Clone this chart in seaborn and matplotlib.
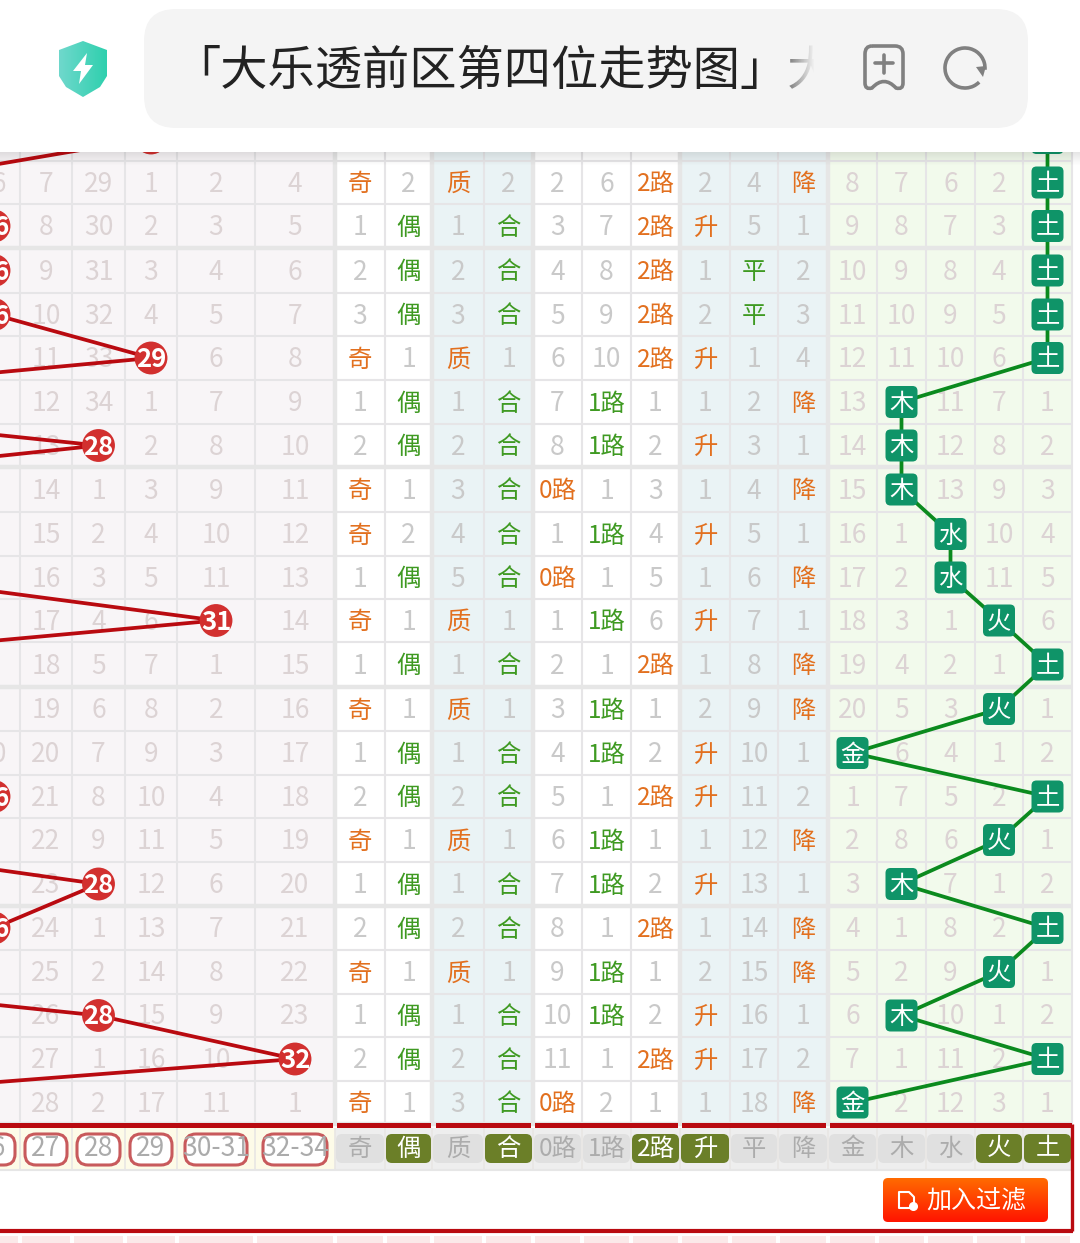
import numpy as np
import pandas as pd
import seaborn as sns
import matplotlib
matplotlib.use('Agg')
import matplotlib.pyplot as plt
from matplotlib.colors import ListedColormap, LinearSegmentedColormap
from matplotlib.patches import FancyBboxPatch, Polygon, Arc, Rectangle, PathPatch
from matplotlib.path import Path

sns.set_theme(style='white')
plt.rcParams['font.family'] = ['Noto Sans CJK SC', 'DejaVu Sans']

# --- data ---
title = '「大乐透前区第四位走势图」大'

# missing counts of the number columns 26, 27, 28, 29, 30-31, 32-34 ('' = drawn as a ball)
number_rows = [
    ['16', '7', '29', '1', '2', '4'],
    ['', '8', '30', '2', '3', '5'],
    ['', '9', '31', '3', '4', '6'],
    ['', '10', '32', '4', '5', '7'],
    ['1', '11', '33', '', '6', '8'],
    ['2', '12', '34', '1', '7', '9'],
    ['3', '13', '', '2', '8', '10'],
    ['4', '14', '1', '3', '9', '11'],
    ['5', '15', '2', '4', '10', '12'],
    ['6', '16', '3', '5', '11', '13'],
    ['7', '17', '4', '6', '', '14'],
    ['8', '18', '5', '7', '1', '15'],
    ['9', '19', '6', '8', '2', '16'],
    ['10', '20', '7', '9', '3', '17'],
    ['', '21', '8', '10', '4', '18'],
    ['1', '22', '9', '11', '5', '19'],
    ['2', '23', '', '12', '6', '20'],
    ['', '24', '1', '13', '7', '21'],
    ['1', '25', '2', '14', '8', '22'],
    ['2', '26', '', '15', '9', '23'],
    ['3', '27', '1', '16', '10', ''],
    ['4', '28', '2', '17', '11', '1'],
]
parity_rows = [
    ['奇', '2', '质', '2'], ['1', '偶', '1', '合'], ['2', '偶', '2', '合'], ['3', '偶', '3', '合'],
    ['奇', '1', '质', '1'], ['1', '偶', '1', '合'], ['2', '偶', '2', '合'], ['奇', '1', '3', '合'],
    ['奇', '2', '4', '合'], ['1', '偶', '5', '合'], ['奇', '1', '质', '1'], ['1', '偶', '1', '合'],
    ['奇', '1', '质', '1'], ['1', '偶', '1', '合'], ['2', '偶', '2', '合'], ['奇', '1', '质', '1'],
    ['1', '偶', '1', '合'], ['2', '偶', '2', '合'], ['奇', '1', '质', '1'], ['1', '偶', '1', '合'],
    ['2', '偶', '2', '合'], ['奇', '1', '3', '合'],
]
road_rows = [
    ['2', '6', '2路'], ['3', '7', '2路'], ['4', '8', '2路'], ['5', '9', '2路'], ['6', '10', '2路'],
    ['7', '1路', '1'], ['8', '1路', '2'], ['0路', '1', '3'], ['1', '1路', '4'], ['0路', '1', '5'],
    ['1', '1路', '6'], ['2', '1', '2路'], ['3', '1路', '1'], ['4', '1路', '2'], ['5', '1', '2路'],
    ['6', '1路', '1'], ['7', '1路', '2'], ['8', '1', '2路'], ['9', '1路', '1'], ['10', '1路', '2'],
    ['11', '1', '2路'], ['0路', '2', '1'],
]
trend_rows = [
    ['2', '4', '降'], ['升', '5', '1'], ['1', '平', '2'], ['2', '平', '3'], ['升', '1', '4'],
    ['1', '2', '降'], ['升', '3', '1'], ['1', '4', '降'], ['升', '5', '1'], ['1', '6', '降'],
    ['升', '7', '1'], ['1', '8', '降'], ['2', '9', '降'], ['升', '10', '1'], ['升', '11', '2'],
    ['1', '12', '降'], ['升', '13', '1'], ['1', '14', '降'], ['2', '15', '降'], ['升', '16', '1'],
    ['升', '17', '2'], ['1', '18', '降'],
]
element_rows = [
    ['8', '7', '6', '2'], ['9', '8', '7', '3'], ['10', '9', '8', '4'], ['11', '10', '9', '5'],
    ['12', '11', '10', '6'], ['13', '11', '7', '1'], ['14', '12', '8', '2'], ['15', '13', '9', '3'],
    ['16', '1', '10', '4'], ['17', '2', '11', '5'], ['18', '3', '1', '6'], ['19', '4', '2', '1'],
    ['20', '5', '3', '1'], ['6', '4', '1', '2'], ['1', '7', '5', '2'], ['2', '8', '6', '1'],
    ['3', '7', '1', '2'], ['4', '1', '8', '2'], ['5', '2', '9', '1'], ['6', '10', '1', '2'],
    ['7', '1', '11', '2'], ['2', '12', '3', '1'],
]
# drawn number of each row, first entry is the row hidden under the address bar
winners = [29, 24, 26, 26, 26, 29, 20, 28, 20, 18, 24, 31, 21, 15, 20, 26, 22, 28, 26, 20, 28, 32, 21]
elements = ['土', '土', '土', '土', '土', '土', '木', '木', '木', '水', '水', '火', '土', '火', '金',
            '土', '火', '木', '土', '火', '木', '土', '金']
element_names = ['金', '木', '水', '火', '土']

filter_numbers = ['26', '27', '28', '29', '30-31', '32-34']
filter_labels = ['奇', '偶', '质', '合', '0路', '1路', '2路', '升', '平', '降', '金', '木', '水', '火', '土']
filter_on = ['偶', '合', '2路', '升', '火', '土']
orange_marks = ['奇', '质', '0路', '2路', '升', '降']
green_marks = ['偶', '合', '1路', '平']

# --- layout in screen pixels ---
col_edges = np.array([-32, 20, 72, 125, 177, 255, 335, 385, 432, 484, 533, 582, 631, 680,
                      730, 778, 828, 877, 926, 975, 1023, 1072, 1080])
row_edges = np.array([116, 161, 204, 248, 293, 336, 380, 424, 467, 512, 556, 599, 642, 687,
                      731, 775, 818, 862, 906, 950, 994, 1037, 1081, 1124])
section_of_col = [0, 0, 0, 0, 0, 0, 1, 1, 2, 2, 1, 1, 1, 2, 2, 2, 3, 3, 3, 3, 3, 4]
section_colors = ['#f8f5f7', '#ffffff', '#eaf3f5', '#f2faec', '#ffffff']
thick_cols = [335, 432, 533, 680, 828]
thick_rows = [248, 467, 687, 906, 1124]
col_x = (col_edges[:-1] + col_edges[1:]) / 2
col_x[0] = -8
row_y = (row_edges[:-1] + row_edges[1:]) / 2
row_y[0] = 138


def number_x(n):
    # columns left of 26 are off the screen, 52 px each
    if n <= 26:
        return -6 - 52 * (26 - n)
    if n <= 29:
        return col_x[n - 26]
    return col_x[4] if n <= 31 else col_x[5]


DIM_LEFT = '#dcd3d4'
DIM_MID = '#c9c9c9'
RED = '#b90a10'
GREEN = '#0b8a1e'
BADGE = '#0f9468'
ICON = '#808080'
FS_NUM = 19
FS_CJK = 17.5
TEXT_DY = 1.5

fig = plt.figure(figsize=(10.8, 12.43), dpi=100)
ax = fig.add_axes([0, 0, 1, 1])
ax.set_xlim(0, 1080)
ax.set_ylim(1243, 0)
ax.axis('off')

# table backgrounds
cells = np.tile(section_of_col, (len(row_edges) - 1, 1))
ax.pcolormesh(col_edges, row_edges, cells, cmap=ListedColormap(section_colors), vmin=0, vmax=4, zorder=1)
ax.vlines(col_edges[1:-1], 116, 1124, color='#e6e5e7', lw=1.5, zorder=1.2)
ax.hlines(row_edges[1:-1], 0, 1072, color='#e6e5e7', lw=1.5, zorder=1.2)
ax.vlines(thick_cols, 116, 1124, color='#e6e6e6', lw=3.2, zorder=1.3)
ax.hlines(thick_rows, 0, 1072, color='#e6e6e6', lw=3.2, zorder=1.3)


def cell_text(x, y, s, dim):
    if s in orange_marks or s in green_marks:
        color = '#e2701f' if s in orange_marks else '#3f9a22'
        ax.text(x, y + TEXT_DY, s, ha='center', va='center', fontsize=FS_CJK, color=color, zorder=2)
    elif s:
        ax.text(x, y + TEXT_DY, s, ha='center', va='center', fontsize=FS_NUM, color=dim, zorder=2, fontweight='light')


for i in range(len(number_rows)):
    y = row_y[i + 1]
    for j, s in enumerate(number_rows[i]):
        cell_text(col_x[j], y, s, DIM_LEFT)
    for j, s in enumerate(parity_rows[i] + road_rows[i] + trend_rows[i]):
        cell_text(col_x[j + 6], y, s, DIM_MID)
    for j, s in enumerate(element_rows[i]):
        # the winning element takes one of the five cells, the others keep their counts
        slots = [k for k in range(5) if element_names[k] != elements[i + 1]]
        cell_text(col_x[16 + slots[j]], y, s, DIM_LEFT)

# drawn numbers
red_df = pd.DataFrame({'x': [number_x(n) for n in winners], 'y': row_y, 'n': winners})
sns.lineplot(data=red_df, x='x', y='y', sort=False, estimator=None, color=RED, lw=2.7, ax=ax, zorder=3, legend=False)
balls = red_df[red_df['x'] > -30]
sns.scatterplot(data=balls, x='x', y='y', s=560, color='#d2302f', edgecolor='none', ax=ax, zorder=4, legend=False)
for _, b in balls.iterrows():
    ax.text(b['x'], b['y'] + TEXT_DY, str(int(b['n'])), ha='center', va='center', color='white', fontsize=18.5,
            fontweight='bold', zorder=5)

# five elements
green_df = pd.DataFrame({'x': [col_x[16 + element_names.index(e)] for e in elements], 'y': row_y, 'e': elements})
sns.lineplot(data=green_df, x='x', y='y', sort=False, estimator=None, color=GREEN, lw=2.7, ax=ax, zorder=3, legend=False)
for _, b in green_df.iterrows():
    ax.add_patch(FancyBboxPatch((b['x'] - 13, b['y'] - 13), 26, 26, boxstyle='round,pad=3,rounding_size=5',
                                fc=BADGE, ec='none', zorder=4))
    ax.text(b['x'], b['y'] + TEXT_DY, b['e'], ha='center', va='center', color='white', fontsize=17.5,
            fontweight='medium', zorder=5)

# red bar and filter row
for a, b in [(0, 333), (337, 431), (436, 531), (535, 678), (682, 826), (830, 1072)]:
    ax.add_patch(Rectangle((a, 1123), b - a, 5, fc=RED, ec='none', zorder=6))
ax.add_patch(Rectangle((0, 1128), 335, 42, fc='#fdfbe8', ec='none', zorder=1))
ax.add_patch(Rectangle((335, 1128), 737, 42, fc='#eeeeee', ec='none', zorder=1))
ax.vlines(col_edges[1:-1], 1128, 1170, color='#e8e6e4', lw=1.2, zorder=1.2)
ax.hlines(1170, 0, 1072, color='#e6e6e6', lw=1.5, zorder=1.2)

for j, s in enumerate(filter_numbers):
    inset = 8 if j >= 4 else 5
    ax.add_patch(FancyBboxPatch((col_edges[j] + inset + 6, 1140), col_edges[j + 1] - col_edges[j] - 2 * inset - 12, 19,
                                boxstyle='round,pad=6,rounding_size=11', fc='white', ec='#c85a5c', lw=2.2, zorder=2))
    ax.text(col_x[j], 1149, s, ha='center', va='center', fontsize=FS_NUM, color='#ababab', zorder=3, fontweight='light')

for j, s in enumerate(filter_labels):
    on = s in filter_on
    a, b = col_edges[j + 6], col_edges[j + 7]
    ax.add_patch(FancyBboxPatch((a + 6, 1139), b - a - 12, 19, boxstyle='round,pad=5,rounding_size=6',
                                fc='#6b7f28' if on else '#e0e0e0', ec='none', zorder=2))
    ax.text(col_x[j + 6], 1148.5, s, ha='center', va='center', fontsize=FS_CJK,
            color='white' if on else '#acacac', zorder=3)

# frame around the filter, button, next rows
ax.plot([1071.5, 1071.5], [1124, 1231], color=RED, lw=2.4, zorder=6, solid_capstyle='butt')
ax.plot([0, 1073], [1230.5, 1230.5], color=RED, lw=3, zorder=6, solid_capstyle='butt')
for a, b in zip(col_edges[:-2], col_edges[1:-1]):
    ax.add_patch(Rectangle((a + 2, 1236), b - a - 4, 10, fc='#fbe9e9', ec='none', zorder=1))

button = FancyBboxPatch((886, 1181), 159, 38, boxstyle='round,pad=3,rounding_size=5', fc='none', ec='none', zorder=5)
ax.add_patch(button)
orange_red = LinearSegmentedColormap.from_list('btn', ['#ff6a00', '#ff1500'])
grad = ax.imshow(np.linspace(0, 1, 50).reshape(-1, 1), extent=(883, 1048, 1222, 1178), aspect='auto', cmap=orange_red, zorder=5)
grad.set_clip_path(button)
ax.text(976, 1200, '加入过滤', ha='center', va='center', color='white', fontsize=18, zorder=6)
ax.add_patch(Polygon([[899, 1192], [909, 1192], [914, 1197], [914, 1208], [899, 1208]], closed=True, fc='none',
                     ec='white', lw=1.5, joinstyle='round', zorder=6))
ax.plot([913], [1206], 'o', ms=5.5, color='white', zorder=6)

# address bar on top of the table
ax.add_patch(Rectangle((0, 0), 1080, 152, fc='white', ec='none', zorder=10))
shadow = LinearSegmentedColormap.from_list('shadow', [(0, 0, 0, 0.10), (0, 0, 0, 0)])
ax.imshow(np.linspace(0, 1, 20).reshape(-1, 1), extent=(0, 1080, 166, 152), aspect='auto', cmap=shadow, zorder=9)
ax.add_patch(FancyBboxPatch((144 + 32, 9 + 32), 884 - 64, 119 - 64, boxstyle='round,pad=32,rounding_size=32',
                            fc='#f4f4f4', ec='none', zorder=11))
ax.text(173, 72, title, ha='left', va='center', fontsize=34, color='#222222', zorder=12)
# last character fades out and is cut by the bar's icons
fade = LinearSegmentedColormap.from_list('fade', [(0.957, 0.957, 0.957, 0), (0.957, 0.957, 0.957, 1)])
ax.imshow(np.linspace(0, 1, 30).reshape(1, -1), extent=(768, 815, 124, 14), aspect='auto', cmap=fade, zorder=13)
ax.add_patch(Rectangle((815, 14), 35, 110, fc='#f4f4f4', ec='none', zorder=13))

# shield icon
teal = LinearSegmentedColormap.from_list('teal', ['#6fd8cc', '#2fd0ae'])
shield = Polygon([[83, 41], [107, 50], [107, 76], [100, 87], [83, 97], [66, 87], [59, 76], [59, 50]], closed=True,
                 fc='none', ec='none', zorder=12, joinstyle='round')
ax.add_patch(shield)
sh = ax.imshow(np.linspace(0, 1, 50).reshape(1, -1), extent=(59, 107, 97, 41), aspect='auto', cmap=teal, zorder=12)
sh.set_clip_path(shield)
ax.add_patch(Polygon([[87, 53], [73, 71], [81, 71], [79, 84], [93, 65], [85, 65]], closed=True, fc='white', ec='none', zorder=13))

# bookmark and reload icons
mark_verts = [(872, 46), (895, 46), (903, 46), (903, 54), (903, 83), (903, 90), (896, 88),
              (884, 75), (872, 88), (865, 90), (865, 83), (865, 54), (865, 46), (872, 46)]
mark_codes = [Path.MOVETO, Path.LINETO, Path.CURVE3, Path.CURVE3, Path.LINETO, Path.CURVE3, Path.CURVE3,
              Path.CURVE3, Path.CURVE3, Path.CURVE3, Path.CURVE3, Path.LINETO, Path.CURVE3, Path.CURVE3]
ax.add_patch(PathPatch(Path(mark_verts, mark_codes), fc='none', ec=ICON, lw=2.6, zorder=14))
ax.plot([875, 893], [63, 63], color=ICON, lw=2.6, zorder=14, solid_capstyle='round')
ax.plot([884, 884], [55, 73], color=ICON, lw=2.6, zorder=14, solid_capstyle='round')
ax.add_patch(Arc((965, 68), 40, 40, theta1=45, theta2=365, color=ICON, lw=2.6, zorder=12))
ax.add_patch(Polygon([[986, 66], [976, 67], [983, 77]], closed=True, fc=ICON, ec='none', zorder=12))

ax.set_xlim(0, 1080)
ax.set_ylim(1243, 0)
ax.set_xlabel('')
ax.set_ylabel('')
fig.savefig('out.png', dpi=100)
